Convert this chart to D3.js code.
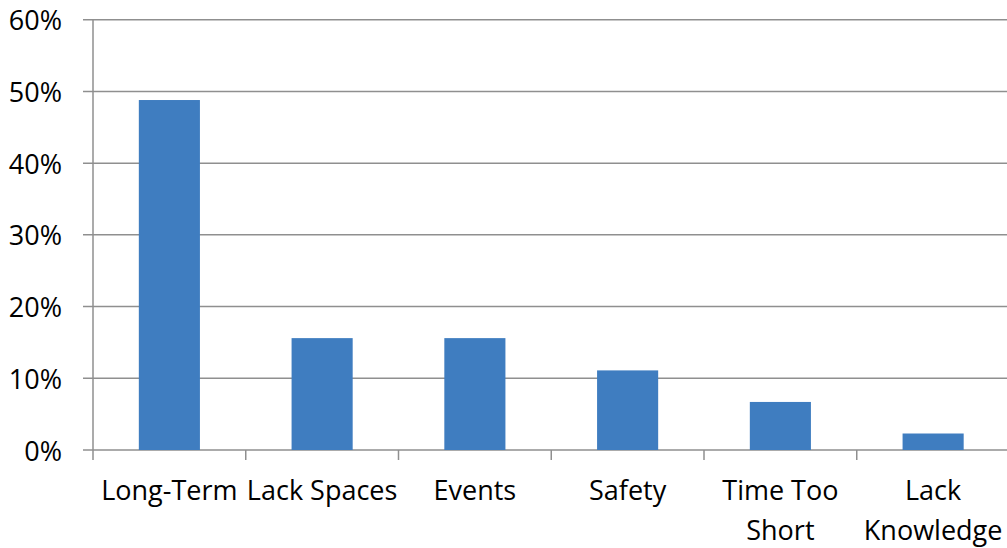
<!DOCTYPE html>
<html>
<head>
<meta charset="utf-8">
<script src="https://cdn.jsdelivr.net/npm/d3@7"></script>
<style>
  html, body { margin: 0; padding: 0; background: #fff; }
  svg { display: block; }
  text { font-family: "Open Sans", sans-serif; fill: #000; }
</style>
</head>
<body>
<svg id="chart" width="1007" height="548"></svg>
<script>
const categories = ["Long-Term", "Lack Spaces", "Events", "Safety", "Time Too Short", "Lack Knowledge"];
const categoryLabelLines = [["Long-Term"], ["Lack Spaces"], ["Events"], ["Safety"], ["Time Too", "Short"], ["Lack", "Knowledge"]];
const values = [0.488, 0.156, 0.156, 0.111, 0.067, 0.023];
const yTicks = [0, 0.1, 0.2, 0.3, 0.4, 0.5, 0.6];

(function () {
const svg = d3.select("#chart");
const plotLeft = 93, plotRight = 1009.5, plotTop = 19.7, plotBottom = 450;

const x = d3.scaleBand().domain(categories).range([plotLeft, plotRight]).padding(0);
const y = d3.scaleLinear().domain([0, 0.6]).range([plotBottom, plotTop]);
const bw = x.bandwidth();
const barW = bw * 0.4;

// gridlines
svg.append("g").selectAll("line").data(yTicks).join("line")
  .attr("x1", plotLeft - 10).attr("x2", 1007)
  .attr("y1", d => y(d)).attr("y2", d => y(d))
  .attr("stroke", "#8f8f8f").attr("stroke-width", 1.5);

// y tick labels
const fmt = d3.format(".0%");
svg.append("g").selectAll("text").data(yTicks).join("text")
  .attr("x", 62).attr("y", d => y(d))
  .attr("text-anchor", "end").attr("dominant-baseline", "central")
  .attr("font-size", 27)
  .text(d => fmt(d));

// y axis line
svg.append("line")
  .attr("x1", plotLeft).attr("x2", plotLeft).attr("y1", plotTop).attr("y2", plotBottom + 10)
  .attr("stroke", "#8f8f8f").attr("stroke-width", 1.5);

// bars
svg.append("g").selectAll("rect").data(categories).join("rect")
  .attr("x", d => x(d) + (bw - barW) / 2)
  .attr("width", barW)
  .attr("y", (d, i) => y(values[i]))
  .attr("height", (d, i) => y(0) - y(values[i]))
  .attr("fill", "#3f7dc0");

// x axis category tick marks
const boundaries = categories.map(c => x(c)).slice(1);
svg.append("g").selectAll("line").data(boundaries).join("line")
  .attr("x1", d => d).attr("x2", d => d)
  .attr("y1", plotBottom).attr("y2", plotBottom + 10)
  .attr("stroke", "#8f8f8f").attr("stroke-width", 1.5);

// x labels
const lbl = svg.append("g").selectAll("text").data(categories).join("text")
  .attr("text-anchor", "middle")
  .attr("font-size", 27)
  .attr("x", d => x(d) + bw / 2)
  .attr("y", 500);
lbl.each(function (d, i) {
  const t = d3.select(this);
  categoryLabelLines[i].forEach((line, j) => {
    t.append("tspan").attr("x", x(d) + bw / 2).attr("y", 500 + j * 40).text(line);
  });
});
})();
</script>
</body>
</html>
